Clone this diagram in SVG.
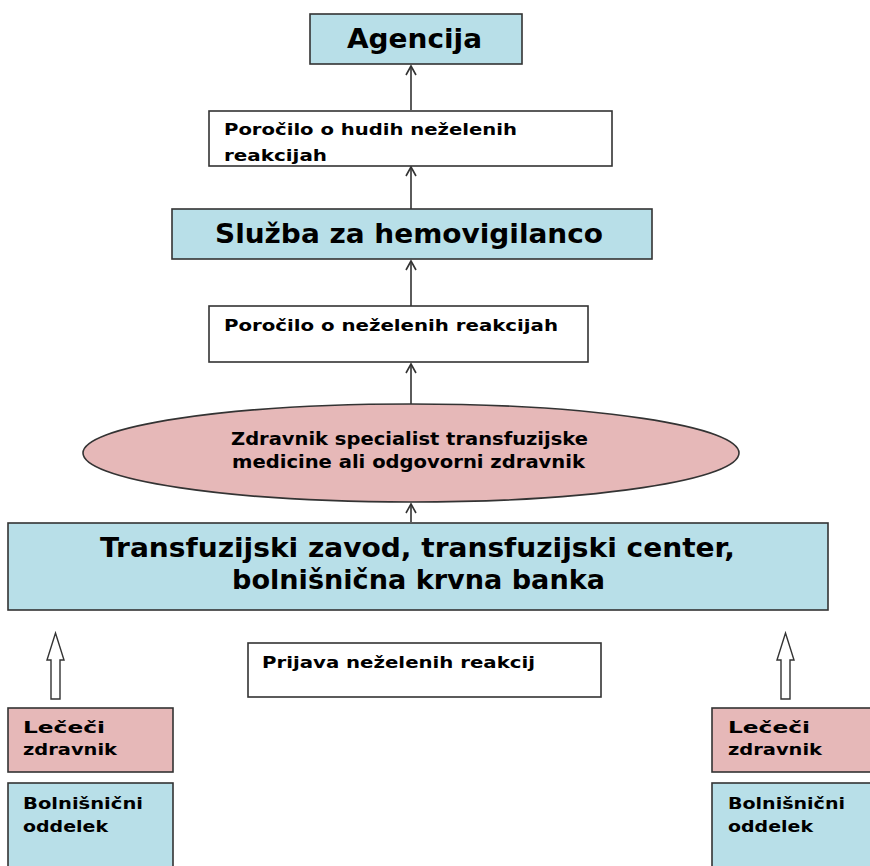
<svg xmlns="http://www.w3.org/2000/svg" width="870" height="866" viewBox="0 0 870 866">
<style>
.box{stroke:#333;stroke-width:1.6}
.blue{fill:#b8dfe8}
.pink{fill:#e6b8b8}
.white{fill:#fff}
text{font-family:"DejaVu Sans","Liberation Sans",sans-serif;font-weight:bold;fill:#000}
.s{font-size:16.5px}
.m{font-size:17px}
.l{font-size:26px}
.xl{font-size:26px}
.conn{stroke:#333;stroke-width:1.6;fill:none}
.hollow{fill:#fff;stroke:#333;stroke-width:1.4}
</style>
<defs>
<marker id="open" markerWidth="14" markerHeight="12" refX="11" refY="6" orient="auto" markerUnits="userSpaceOnUse">
<polyline points="2,1 11,6 2,11" fill="none" stroke="#333" stroke-width="1.6"/>
</marker>
</defs>
<rect width="870" height="866" fill="#fff"/>

<g id="connectors">
<line class="conn" x1="411" y1="110" x2="411" y2="66" marker-end="url(#open)"/>
<line class="conn" x1="411" y1="209" x2="411" y2="167" marker-end="url(#open)"/>
<line class="conn" x1="411" y1="306" x2="411" y2="261" marker-end="url(#open)"/>
<line class="conn" x1="411" y1="404" x2="411" y2="364" marker-end="url(#open)"/>
<line class="conn" x1="411" y1="522" x2="411" y2="504" marker-end="url(#open)"/>
<polygon class="hollow" points="51,699 60,699 60,660 64,660 55.5,633 47,660 51,660"/>
<polygon class="hollow" points="781,699 790,699 790,660 794,660 785.5,633 777,660 781,660"/>
</g>

<g id="agencija">
<rect class="box blue" x="310" y="14" width="212" height="50"/>
<text class="l" x="347" y="48" textLength="135" lengthAdjust="spacingAndGlyphs">Agencija</text>
</g>

<g id="porocilo-hudih">
<rect class="box white" x="209" y="111" width="403" height="55"/>
<text class="s" x="224" y="135" textLength="293" lengthAdjust="spacingAndGlyphs">Poročilo o hudih neželenih</text>
<text class="s" x="224" y="161" textLength="103" lengthAdjust="spacingAndGlyphs">reakcijah</text>
</g>

<g id="sluzba">
<rect class="box blue" x="172" y="209" width="480" height="50"/>
<text class="l" x="215" y="243" textLength="388" lengthAdjust="spacingAndGlyphs">Služba za hemovigilanco</text>
</g>

<g id="porocilo">
<rect class="box white" x="209" y="306" width="379" height="56"/>
<text class="s" x="224" y="331" textLength="334" lengthAdjust="spacingAndGlyphs">Poročilo o neželenih reakcijah</text>
</g>

<g id="zdravnik-specialist">
<ellipse class="box pink" cx="411" cy="453" rx="328" ry="49"/>
<text class="m" x="231" y="445" textLength="357" lengthAdjust="spacingAndGlyphs">Zdravnik specialist transfuzijske</text>
<text class="m" x="232" y="468" textLength="353" lengthAdjust="spacingAndGlyphs">medicine ali odgovorni  zdravnik</text>
</g>

<g id="transfuzijski">
<rect class="box blue" x="8" y="523" width="820" height="87"/>
<text class="xl" x="100" y="557" textLength="635" lengthAdjust="spacingAndGlyphs">Transfuzijski zavod, transfuzijski center,</text>
<text class="xl" x="232" y="589" textLength="373" lengthAdjust="spacingAndGlyphs">bolnišnična krvna banka</text>
</g>

<g id="prijava">
<rect class="box white" x="248" y="643" width="353" height="54"/>
<text class="s" x="262" y="668" textLength="273" lengthAdjust="spacingAndGlyphs">Prijava neželenih reakcij</text>
</g>

<g id="lececi-levo">
<rect class="box pink" x="8" y="708" width="165" height="64"/>
<text class="s" x="23" y="733" textLength="82" lengthAdjust="spacingAndGlyphs">Lečeči</text>
<text class="s" x="23" y="755" textLength="94" lengthAdjust="spacingAndGlyphs">zdravnik</text>
</g>

<g id="oddelek-levo">
<rect class="box blue" x="8" y="783" width="165" height="90"/>
<text class="s" x="23" y="809" textLength="120" lengthAdjust="spacingAndGlyphs">Bolnišnični</text>
<text class="s" x="23" y="832" textLength="85" lengthAdjust="spacingAndGlyphs">oddelek</text>
</g>

<g id="lececi-desno">
<rect class="box pink" x="712" y="708" width="165" height="64"/>
<text class="s" x="728" y="733" textLength="82" lengthAdjust="spacingAndGlyphs">Lečeči</text>
<text class="s" x="728" y="755" textLength="94" lengthAdjust="spacingAndGlyphs">zdravnik</text>
</g>

<g id="oddelek-desno">
<rect class="box blue" x="712" y="783" width="165" height="90"/>
<text class="s" x="728" y="809" textLength="117" lengthAdjust="spacingAndGlyphs">Bolnišnični</text>
<text class="s" x="728" y="832" textLength="85" lengthAdjust="spacingAndGlyphs">oddelek</text>
</g>
</svg>
